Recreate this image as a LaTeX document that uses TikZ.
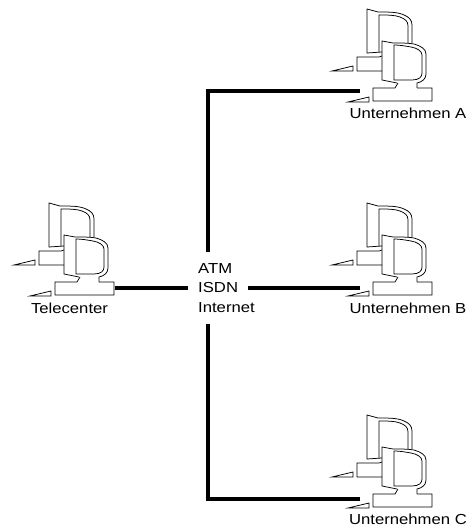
\documentclass[tikz,border=0pt]{standalone}
\usepackage{fontspec}
\setmainfont[FakeStretch=1.15]{Liberation Sans}
\usepackage{tikz}
\usetikzlibrary{positioning}

\tikzset{
  wire/.style={line width=3.8pt},
  icon/.style={line width=0.75pt},
  lbl/.style={inner sep=0pt,font=\fontsize{14.5}{15}\selectfont},
  pics/computer/.style={code={
    % back monitor
    \draw[icon] (15,42) -- (0,43) -- (0,-1) -- (11,2) .. controls (22,2) and (31,2) .. (37,5) .. controls (42,7) and (45,10) .. (45,15) -- (45,33);
    \draw[icon] (12,42) -- (12,5) .. controls (20,5) and (28,5) .. (33,7) .. controls (38,9) and (41,11) .. (41,16) -- (41,33);
    % box
    \draw[icon] (15,46) -- (12,47) -- (-10,47) -- (-10,61) -- (15,61);
    \draw[icon] (-35,61) -- (-14,56) -- (-14,61) -- cycle;
    % front monitor
    \draw[icon] (30,73) -- (15,70) -- (15,31) -- (26,33) .. controls (34,33) and (42,33) .. (47,34) .. controls (54,36) and (59,39) .. (59,44) -- (59,64) .. controls (59,69) and (55,72) .. (50,73) -- (50,78);
    \draw[icon] (27,35) -- (27,70) -- (45,70) .. controls (52,70) and (55,67) .. (55,63) -- (55,45) .. controls (55,41) and (50,38) .. (44,37) .. controls (38,36) and (33,35) .. (27,35) -- cycle;
    % base
    \draw[icon] (31,73) -- (28,78) -- (6,78) -- (6,91) -- (65,91) -- (65,78) -- (50,78);
    \draw[icon] (-19,92) -- (2,87) -- (2,92) -- cycle;
  }},
}

\begin{document}
\begin{tikzpicture}[x=1pt,y=-1pt]
\useasboundingbox (0,0) rectangle (473,529);

% Computers
\pic at (367,10) {computer};
\pic at (367,204) {computer};
\pic at (367,416) {computer};
\pic at (49,204) {computer};

% Labels
\node[lbl] (firmaA) at (408,113) {Unternehmen A};
\node[lbl] (firmaB) at (408,308) {Unternehmen B};
\node[lbl] (firmaC) at (408,519) {Unternehmen C};
\node[lbl] (tele) at (69.5,308) {Telecenter};
\node[lbl,anchor=west,inner xsep=10pt] (isdn) at (188,288) {ISDN};
\node[lbl,anchor=west] (atm) at (198,269) {ATM};
\node[lbl,anchor=west] (inet) at (198,308) {Internet};

% Connectors
\coordinate (endA) at (360,91);
\coordinate (endB) at (360,288);
\coordinate (endC) at (360,499);
\coordinate (endT) at (115,288);
\coordinate (kneeA) at (208,91);
\coordinate (kneeC) at (208,499);
\coordinate (gapA) at (208,252);
\coordinate (gapC) at (208,324);

\draw[wire] (endA) -- (kneeA) -- (gapA);
\draw[wire] (endC) -- (kneeC) -- (gapC);
\draw[wire] (endT) -- (isdn.west);
\draw[wire] (isdn.east) -- (endB);
\end{tikzpicture}
\end{document}
